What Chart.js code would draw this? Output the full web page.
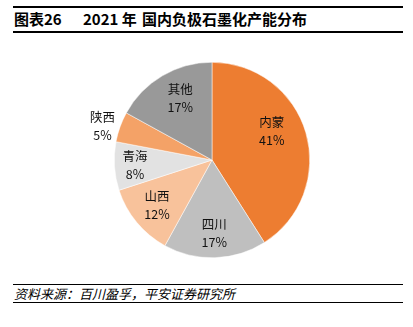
<!DOCTYPE html>
<html><head><meta charset="utf-8">
<script src="https://cdn.jsdelivr.net/npm/chart.js@4"></script>
<style>
html,body{margin:0;padding:0;background:#fff;width:413px;height:327px;overflow:hidden;font-family:"Noto Sans CJK SC","Noto Sans",sans-serif;}
.line{position:absolute;left:13px;width:390px;background:#000;}
.t{position:absolute;top:8px;font-size:15px;font-weight:bold;color:#000;white-space:nowrap;}
#src{position:absolute;left:14px;top:284px;font-size:13px;font-style:italic;color:#000;white-space:nowrap;}
#wrap{position:absolute;left:0;top:40px;width:413px;height:240px;}
</style></head>
<body>
<div class="line" style="top:6px;height:1.5px"></div>
<div class="t" style="left:14px">图表26</div>
<div class="t" style="left:83px">2021 年</div>
<div class="t" style="left:142px">国内负极石墨化产能分布</div>
<div class="line" style="top:31px;height:1.5px"></div>
<div class="line" style="top:283.5px;height:1.5px"></div>
<div id="src">资料来源：百川盈孚，平安证券研究所</div>
<div class="line" style="top:301.5px;height:1.5px"></div>
<div id="wrap"><canvas id="c"></canvas></div>
<script>
const categories = ["内蒙", "四川", "山西", "青海", "陕西", "其他"];
const shares = [41, 17, 12, 8, 5, 17];
const valueLabels = ["41%", "17%", "12%", "8%", "5%", "17%"];

const colors = ["#ED7D31", "#BFBFBF", "#F8C29B", "#E2E2E2", "#F4A267", "#999999"];
const labelRadius = [0.68, 0.75, 0.73, 0.79, 1.17, 0.71];
const labelAngleShift = [-0.17, 0, 0, 0, -0.05, 0.06];

const labelPlugin = {
  id: 'pieLabels',
  afterDatasetsDraw(chart) {
    const ctx = chart.ctx;
    const meta = chart.getDatasetMeta(0);
    ctx.save();
    ctx.font = '12.5px "Noto Sans CJK SC", "Noto Sans", sans-serif';
    ctx.fillStyle = '#111';
    ctx.textAlign = 'center';
    ctx.textBaseline = 'middle';
    meta.data.forEach((arc, i) => {
      const p = arc.getProps(['x','y','startAngle','endAngle','outerRadius'], true);
      const mid = (p.startAngle + p.endAngle) / 2 + labelAngleShift[i];
      const r = p.outerRadius * labelRadius[i];
      const cx = p.x + Math.cos(mid) * r;
      const cy = p.y + Math.sin(mid) * r;
      ctx.fillText(categories[i], cx, cy - 9);
      ctx.fillText(valueLabels[i], cx, cy + 9);
    });
    ctx.restore();
  }
};

new Chart(document.getElementById('c'), {
  type: 'pie',
  data: {
    labels: categories,
    datasets: [{
      data: shares,
      backgroundColor: colors,
      borderColor: '#ffffff',
      borderWidth: 0.5
    }]
  },
  options: {
    responsive: true,
    maintainAspectRatio: false,
    animation: false,
    layout: { padding: { left: 11, right: 0, top: 22, bottom: 22 } },
    plugins: { legend: { display: false }, tooltip: { enabled: false } }
  },
  plugins: [labelPlugin]
});
</script>
</body></html>
